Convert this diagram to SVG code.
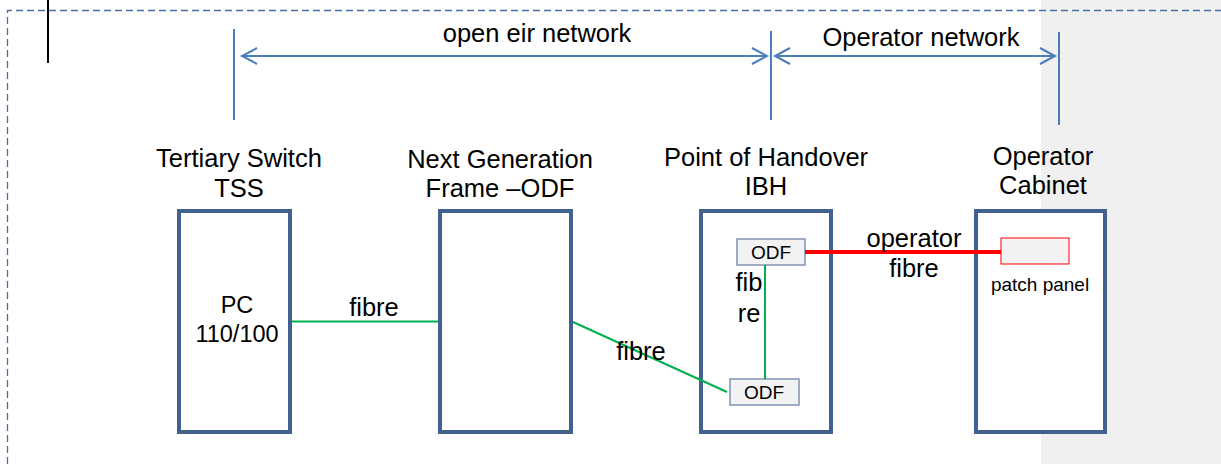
<svg xmlns="http://www.w3.org/2000/svg" width="1221" height="464" viewBox="0 0 1221 464">
<style>
text{font-family:"Liberation Sans",Arial,sans-serif;fill:#000;text-anchor:middle}
.t{font-size:25.5px}
.n{font-size:23.5px}
.s{font-size:19px}
.box{fill:#fff;stroke:#41618f;stroke-width:4}
.odf{fill:#f2f2f2;stroke:#7f93b3;stroke-width:1.5}
.dim{stroke:#4a7ebb;stroke-width:2;fill:none}
.g{stroke:#00b050;stroke-width:2;fill:none}
</style>
<rect x="1041" y="0" width="180" height="464" fill="#f0f0f0"/>
<path d="M7.5,464 V10.5 H1221" fill="none" stroke="#4a6fa5" stroke-width="1.3" stroke-dasharray="7,4"/>
<line x1="48" y1="0" x2="48" y2="63" stroke="#000" stroke-width="2"/>
<g id="dimensions">
<line class="dim" x1="234" y1="29" x2="234" y2="120"/>
<line class="dim" x1="771" y1="31" x2="771" y2="120"/>
<line class="dim" x1="1059" y1="32" x2="1059" y2="125"/>
<line class="dim" x1="242" y1="56" x2="767" y2="56"/>
<path class="dim" d="M257,48 L242,56 L257,64 M752,48 L767,56 L752,64"/>
<line class="dim" x1="775" y1="56" x2="1055" y2="56"/>
<path class="dim" d="M790,48 L775,56 L790,64 M1040,48 L1055,56 L1040,64"/>
<text class="t" x="537" y="42">open eir network</text>
<text class="t" x="921" y="46">Operator network</text>
</g>
<g id="tss">
<rect class="box" x="179" y="211" width="111" height="221"/>
<text class="t" x="239" y="167">Tertiary Switch</text>
<text class="t" x="239" y="197">TSS</text>
<text class="n" x="237" y="313">PC</text>
<text class="n" x="237" y="342">110/100</text>
</g>
<g id="ngf">
<rect class="box" x="440" y="211" width="131" height="221"/>
<text class="t" x="500" y="168">Next Generation</text>
<text class="t" x="500" y="197">Frame –ODF</text>
</g>
<g id="ibh">
<rect class="box" x="701" y="211" width="130" height="221"/>
<text class="t" x="766" y="166">Point of Handover</text>
<text class="t" x="766" y="195">IBH</text>
</g>
<g id="odf1">
<rect class="odf" x="737" y="239" width="68" height="26"/>
<text class="s" x="771" y="259">ODF</text>
</g>
<g id="odf2">
<rect class="odf" x="730" y="379" width="69" height="26"/>
<text class="s" x="764" y="399">ODF</text>
</g>
<g id="cabinet">
<rect class="box" x="976" y="211" width="129" height="221"/>
<text class="t" x="1043" y="165">Operator</text>
<text class="t" x="1043" y="194">Cabinet</text>
</g>
<g id="patchpanel">
<rect x="1001" y="238" width="68" height="26" fill="#f2f2f2" stroke="#ff0000" stroke-width="1"/>
<text class="s" x="1040" y="291">patch panel</text>
</g>
<g id="connectors">
<line class="g" x1="292" y1="321.5" x2="438" y2="321.5"/>
<text class="t" x="374" y="316">fibre</text>
<line class="g" x1="573" y1="322" x2="727" y2="392"/>
<text class="t" x="641" y="360">fibre</text>
<line class="g" x1="765" y1="265" x2="765" y2="379"/>
<text class="t" x="749" y="291">fib</text>
<text class="t" x="749" y="322">re</text>
<line x1="805" y1="252" x2="1001" y2="252" stroke="#ff0000" stroke-width="4"/>
<text class="t" x="914" y="247">operator</text>
<text class="t" x="914" y="277">fibre</text>
</g>
</svg>
